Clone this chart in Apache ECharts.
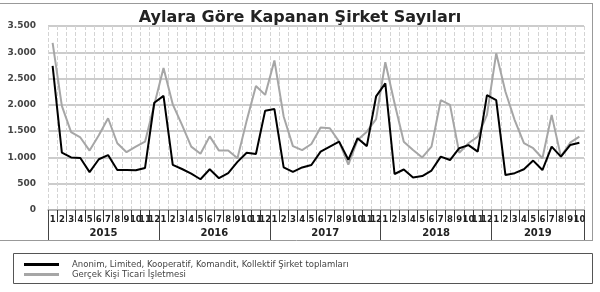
<!DOCTYPE html>
<html>
<head>
<meta charset="utf-8">
<script src="https://cdn.jsdelivr.net/npm/echarts@6/dist/echarts.min.js"></script>
<style>
  html, body { margin: 0; padding: 0; background: #fff; }
  #chart { width: 600px; height: 292px; }
</style>
</head>
<body>
<div id="chart"></div>
<script>
// yıllar ve ay sayısı
var years = ['2015', '2016', '2017', '2018', '2019'];
var monthsPerYear = [12, 12, 12, 12, 10];

// Anonim, Limited, Kooperatif, Komandit, Kollektif Şirket toplamları
var sirketData = [
  2740, 1090, 1000, 990, 720, 965, 1045, 760, 760, 755, 800, 2040,
  2170, 860, 780, 690, 585, 775, 605, 700, 915, 1090, 1065, 1890,
  1920, 810, 725, 810, 855, 1110, 1205, 1300, 955, 1365, 1215, 2160,
  2410, 685, 770, 620, 645, 750, 1015, 950, 1175, 1235, 1110, 2185,
  2090, 665, 700, 775, 940, 760, 1205, 1015, 1235, 1280
];

// Gerçek Kişi Ticari İşletmesi
var gercekData = [
  3180, 1980, 1480, 1380, 1130, 1420, 1745, 1270, 1100, 1205, 1300, 2000,
  2700, 2010, 1620, 1205, 1070, 1400, 1130, 1130, 985, 1700, 2360, 2190,
  2845, 1780, 1215, 1140, 1255, 1570, 1555, 1300, 865, 1330, 1490, 1730,
  2810, 2030, 1300, 1140, 1000, 1205, 2090, 2000, 1090, 1270, 1395, 1810,
  2980, 2250, 1710, 1270, 1175, 985, 1810, 1015, 1280, 1395
];

var seriesNames = [
  'Anonim, Limited, Kooperatif, Komandit, Kollektif Şirket toplamları',
  'Gerçek Kişi Ticari İşletmesi'
];

// kategori listesi (ay numaraları)
var categories = [];
var yearStarts = [];
var yearMids = [];
var pos = 0;
for (var i = 0; i < years.length; i++) {
  yearStarts.push(pos);
  yearMids.push(pos + monthsPerYear[i] / 2);
  for (var m = 1; m <= monthsPerYear[i]; m++) {
    categories.push(String(m));
  }
  pos += monthsPerYear[i];
}
yearStarts.push(pos);

var myChart = echarts.init(document.getElementById('chart'), null, { renderer: 'canvas' });

var font = "'DejaVu Sans', sans-serif";

var option = {
  backgroundColor: '#fff',
  animation: false,
  title: {
    text: 'Aylara Göre Kapanan Şirket Sayıları',
    left: 'center',
    top: 5,
    textStyle: {
      fontFamily: font,
      fontSize: 16,
      fontWeight: 'bold',
      color: '#222'
    }
  },
  grid: {
    left: 48,
    right: 16,
    top: 26,
    bottom: 82
  },
  legend: {
    orient: 'vertical',
    left: 19,
    top: 255,
    icon: 'rect',
    itemWidth: 35,
    itemHeight: 3,
    itemGap: 1,
    data: seriesNames,
    textStyle: {
      fontFamily: font,
      fontSize: 8.5,
      color: '#444',
      padding: [0, 0, 0, 8]
    }
  },
  xAxis: [
    {
      type: 'category',
      data: categories,
      boundaryGap: true,
      axisLine: { lineStyle: { color: '#aaa', width: 1.5 } },
      axisTick: {
        show: true,
        interval: 0,
        length: 12,
        lineStyle: { color: '#333', width: 1 }
      },
      axisLabel: {
        interval: 0,
        margin: 5,
        fontFamily: font,
        fontSize: 8.5,
        fontWeight: 'bold',
        color: '#222'
      },
      splitLine: {
        show: true,
        interval: 0,
        lineStyle: { color: '#d4d4d4', type: 'dashed', width: 1 }
      }
    },
    {
      type: 'value',
      min: 0,
      max: categories.length,
      position: 'bottom',
      axisLine: { show: false },
      splitLine: { show: false },
      axisTick: {
        show: true,
        length: 30,
        customValues: yearStarts,
        lineStyle: { color: '#444', width: 1 }
      },
      axisLabel: {
        customValues: yearMids,
        margin: 18,
        fontFamily: font,
        fontSize: 10,
        fontWeight: 'bold',
        color: '#222',
        formatter: function (v) {
          var idx = yearMids.indexOf(v);
          return idx >= 0 ? years[idx] : '';
        }
      }
    }
  ],
  yAxis: {
    type: 'value',
    min: 0,
    max: 3500,
    interval: 500,
    axisLine: { show: false },
    axisTick: { show: false },
    axisLabel: {
      margin: 12,
      fontFamily: font,
      fontSize: 9,
      fontWeight: 'bold',
      color: '#444',
      formatter: function (v) {
        return String(v).replace(/\B(?=(\d{3})+(?!\d))/g, '.');
      }
    },
    splitLine: { lineStyle: { color: '#bbb', width: 1.5 } }
  },
  series: [
    {
      name: seriesNames[0],
      type: 'line',
      xAxisIndex: 0,
      data: sirketData,
      symbol: 'none',
      z: 4,
      lineStyle: { color: '#000', width: 2 },
      itemStyle: { color: '#000' }
    },
    {
      name: seriesNames[1],
      type: 'line',
      xAxisIndex: 0,
      data: gercekData,
      symbol: 'none',
      z: 3,
      lineStyle: { color: '#a6a6a6', width: 2 },
      itemStyle: { color: '#a6a6a6' }
    }
  ],
  graphic: [
    // dış çerçeve
    { type: 'line', shape: { x1: 0, y1: 3.5, x2: 592, y2: 3.5 }, style: { stroke: '#999', lineWidth: 1 } },
    { type: 'line', shape: { x1: 592.5, y1: 3, x2: 592.5, y2: 240 }, style: { stroke: '#999', lineWidth: 1 } },
    { type: 'line', shape: { x1: 0, y1: 240.5, x2: 593, y2: 240.5 }, style: { stroke: '#999', lineWidth: 1 } },
    // lejant kutusu
    { type: 'rect', shape: { x: 13.5, y: 253.5, width: 579, height: 30 }, style: { fill: 'none', stroke: '#555', lineWidth: 1 } }
  ]
};

myChart.setOption(option);
</script>
</body>
</html>
